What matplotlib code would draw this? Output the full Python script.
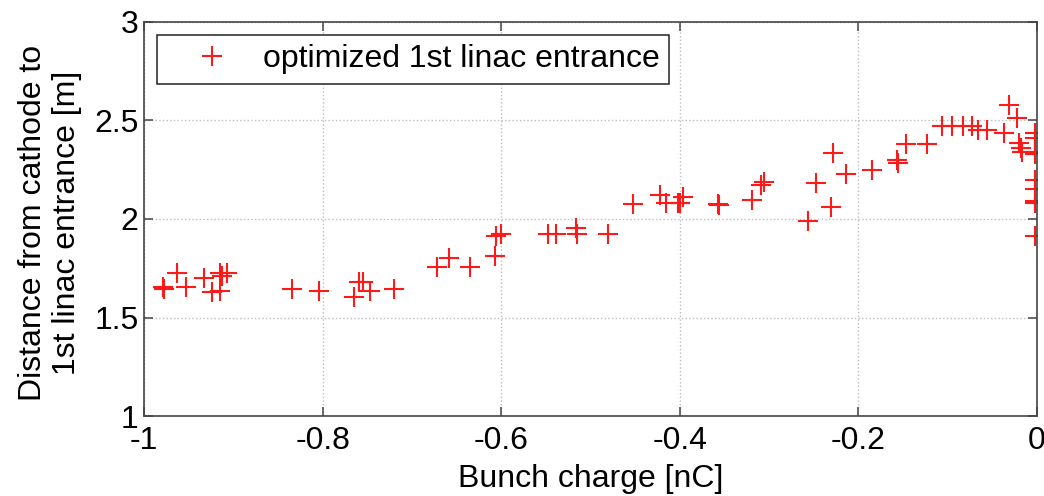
import matplotlib
matplotlib.use('Agg')
import matplotlib.pyplot as plt

plt.rcParams['font.family'] = ['Liberation Sans', 'DejaVu Sans']

# bunch charge [nC] and optimised distance [m]
charge = [-0.979, -0.978, -0.963, -0.953, -0.933, -0.924, -0.915, -0.915, -0.913, -0.907,
          -0.834, -0.804, -0.765, -0.759, -0.755, -0.747, -0.720,
          -0.672, -0.658, -0.635, -0.607, -0.606, -0.600,
          -0.548, -0.539, -0.516, -0.515, -0.480,
          -0.452, -0.422, -0.415, -0.402, -0.400, -0.396, -0.357, -0.356,
          -0.319, -0.309, -0.306, -0.256, -0.247, -0.230, -0.228, -0.214,
          -0.185, -0.157, -0.155, -0.146, -0.123,
          -0.106, -0.095, -0.083, -0.072, -0.066, -0.056, -0.037, -0.031,
          -0.022, -0.020, -0.018, -0.016,
          -0.002, -0.002, -0.002, -0.002, -0.002, -0.002, -0.002, -0.002, -0.002]
distance = [1.655, 1.645, 1.726, 1.655, 1.70, 1.629, 1.635, 1.726, 1.71, 1.726,
            1.645, 1.635, 1.604, 1.68, 1.68, 1.635, 1.645,
            1.755, 1.80, 1.755, 1.81, 1.914, 1.924,
            1.924, 1.924, 1.954, 1.924, 1.924,
            2.076, 2.12, 2.08, 2.08, 2.08, 2.11, 2.076, 2.07,
            2.096, 2.173, 2.19, 1.99, 2.18, 2.06, 2.335, 2.23,
            2.25, 2.30, 2.285, 2.38, 2.38,
            2.47, 2.47, 2.47, 2.47, 2.45, 2.45, 2.435, 2.58,
            2.51, 2.385, 2.36, 2.34,
            2.437, 2.41, 2.34, 2.33, 2.20, 2.15, 2.09, 2.08, 1.914]

xticks = [-1, -0.8, -0.6, -0.4, -0.2, 0]
xticklabels = ['-1', '-0.8', '-0.6', '-0.4', '-0.2', '0']
yticks = [1, 1.5, 2, 2.5, 3]
yticklabels = ['1', '1.5', '2', '2.5', '3']

fig = plt.figure(figsize=(10.44, 4.96), dpi=100)
ax = fig.add_axes([0.138, 0.161, 0.855, 0.795])

ax.plot(charge, distance, linestyle='none', marker='+', color='#ff1a1a',
        markersize=15, markeredgewidth=1.5, label='optimized 1st linac entrance')

ax.set_xlim(-1, 0)
ax.set_ylim(1, 3)
ax.set_xticks(xticks)
ax.set_xticklabels(xticklabels)
ax.set_yticks(yticks)
ax.set_yticklabels(yticklabels)

ax.grid(True, linestyle=':', color='#bdbdbd', linewidth=1.0)
ax.tick_params(direction='in', length=6.5, width=1.1, color='#444444',
               labelsize=23, top=True, right=True)
ax.tick_params(axis='x', pad=7)
ax.tick_params(axis='y', pad=4)
for s in ax.spines.values():
    s.set_color('#444444')
    s.set_linewidth(1.2)

ax.set_xlabel('Bunch charge [nC]', fontsize=23, labelpad=6)
ax.set_ylabel('Distance from cathode to\n1st linac entrance [m]', fontsize=23,
              linespacing=1.2)
ax.yaxis.set_label_coords(-0.069, 0.49)

leg = ax.legend(loc='upper left', bbox_to_anchor=(0.014, 0.967), fontsize=23,
                frameon=True, fancybox=False, borderpad=0.3, handlelength=2.9,
                handletextpad=0.12, borderaxespad=0, markerscale=1.0)
leg.get_frame().set_edgecolor('#222222')
leg.get_frame().set_linewidth(1.1)
leg.get_frame().set_alpha(1)

fig.savefig('out.png', dpi=100)
